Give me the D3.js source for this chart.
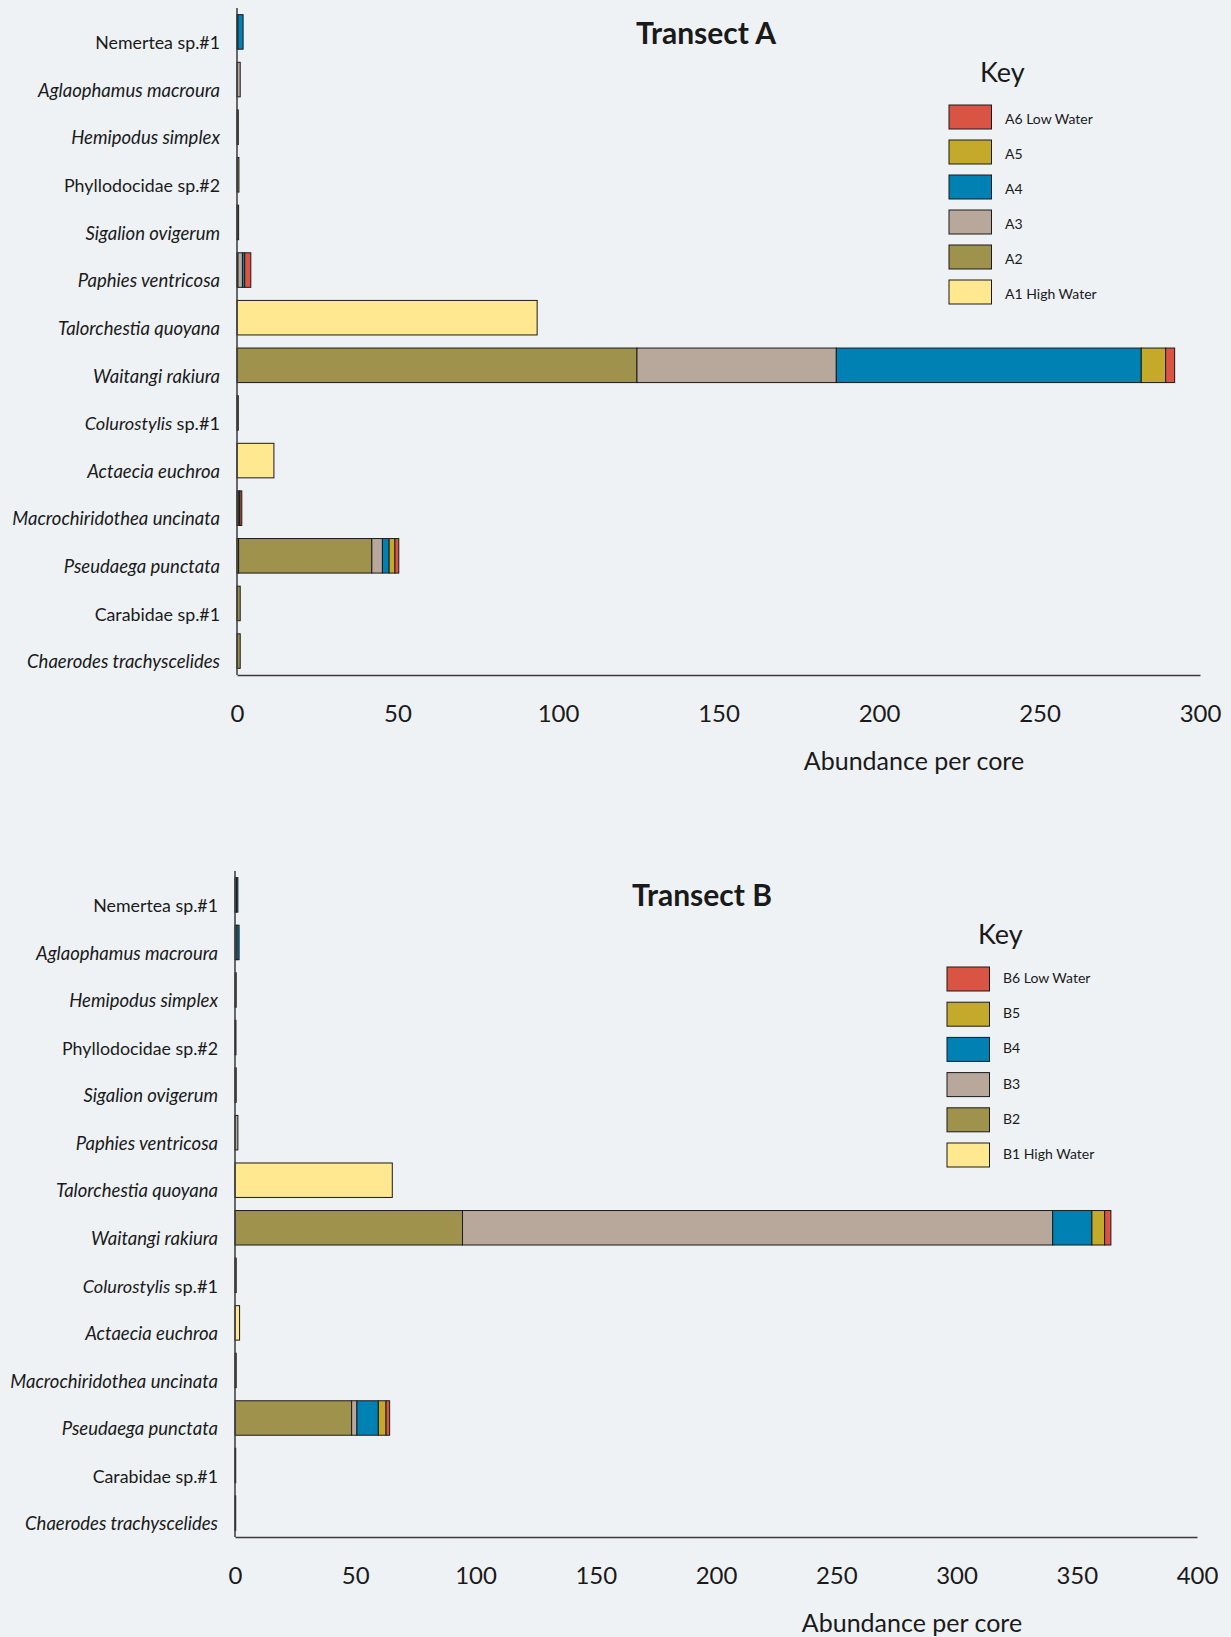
<!DOCTYPE html>
<html>
<head>
<meta charset="utf-8">
<script src="https://cdn.jsdelivr.net/npm/d3@7"></script>
<style>
  html, body { margin: 0; padding: 0; background: #eef2f5; }
  svg { display: block; }
  text { font-family: Lato, "Open Sans", sans-serif; fill: #1a1a1a; }
</style>
</head>
<body>
<svg id="chart" width="1231" height="1637"></svg>
<script>
// ---- Data ----
const species = [
  "Nemertea sp.#1", "Aglaophamus macroura", "Hemipodus simplex", "Phyllodocidae sp.#2",
  "Sigalion ovigerum", "Paphies ventricosa", "Talorchestia quoyana", "Waitangi rakiura",
  "Colurostylis sp.#1", "Actaecia euchroa", "Macrochiridothea uncinata", "Pseudaega punctata",
  "Carabidae sp.#1", "Chaerodes trachyscelides"
];
// label style: 'r' regular, 'i' italic, 'm' mixed (italic genus + regular sp.)
const labelStyle = ["r","i","i","r","i","i","i","i","m","i","i","i","r","i"];

// Transect A (abundance per core at sites A1..A6)
const A1 = [0, 0, 0, 0, 0, 0, 93.5, 0, 0, 11.5, 0, 0.5, 0, 0];
const A2 = [0.3, 0, 0.4, 0.6, 0.5, 0.3, 0, 124.6, 0.4, 0, 0.6, 41.5, 1, 1];
const A3 = [0, 1, 0, 0, 0, 1.4, 0, 62.1, 0, 0, 0, 3.3, 0, 0];
const A4 = [1.6, 0, 0, 0, 0, 0.7, 0, 95, 0, 0, 0.3, 2.1, 0, 0];
const A5 = [0, 0, 0, 0, 0, 0, 0, 7.6, 0, 0, 0, 1.8, 0, 0];
const A6 = [0, 0, 0, 0, 0, 1.9, 0, 2.8, 0, 0, 0.6, 1.2, 0, 0];

// Transect B (abundance per core at sites B1..B6)
const B1 = [0, 0, 0, 0, 0, 0, 65.4, 0, 0, 1.9, 0, 0, 0, 0];
const B2 = [0, 0, 0.5, 0.4, 0.5, 0, 0, 94.6, 0.5, 0, 0.5, 48.5, 0.3, 0.3];
const B3 = [0.6, 0.8, 0, 0, 0, 1.2, 0, 245.4, 0, 0, 0, 2.2, 0, 0];
const B4 = [0.6, 0.9, 0, 0, 0, 0, 0, 16.3, 0, 0, 0, 8.9, 0, 0];
const B5 = [0, 0, 0, 0, 0, 0, 0, 5.3, 0, 0, 0, 3.2, 0, 0];
const B6 = [0, 0, 0, 0, 0, 0, 0, 2.6, 0, 0, 0, 1.5, 0, 0];

const siteColors = ["#ffe88f", "#9e924c", "#b8a89c", "#0081b4", "#c4aa2a", "#d95442"];
const legendA = ["A6 Low Water", "A5", "A4", "A3", "A2", "A1 High Water"];
const legendB = ["B6 Low Water", "B5", "B4", "B3", "B2", "B1 High Water"];
const ticksA = [0, 50, 100, 150, 200, 250, 300];
const ticksB = [0, 50, 100, 150, 200, 250, 300, 350, 400];

// ---- Drawing ----
const svg = d3.select("#chart");
svg.append("rect").attr("width", 1231).attr("height", 1637).attr("fill", "#eef2f5");

function drawPanel(cfg) {
  const g = svg.append("g");
  const keys = ["s1","s2","s3","s4","s5","s6"];
  const rows = species.map((name, i) => {
    const r = { name };
    cfg.series.forEach((s, k) => r[keys[k]] = s[i]);
    return r;
  });
  const stacked = d3.stack().keys(keys)(rows);

  const x = d3.scaleLinear().domain([0, cfg.max]).range([cfg.x0, cfg.x1]);
  const y = d3.scaleBand().domain(species).range([cfg.yTop, cfg.yBase])
    .paddingInner(0.275).paddingOuter(0.14);

  // bars
  stacked.forEach((layer, k) => {
    g.append("g").selectAll("rect")
      .data(layer.filter(d => d[1] - d[0] > 0))
      .join("rect")
      .attr("x", d => x(d[0]))
      .attr("y", d => y(d.data.name))
      .attr("width", d => x(d[1]) - x(d[0]))
      .attr("height", y.bandwidth())
      .attr("fill", siteColors[k])
      .attr("stroke", "#1a1a1a")
      .attr("stroke-width", 1);
  });

  // vertical axis line
  g.append("line")
    .attr("x1", cfg.x0).attr("x2", cfg.x0)
    .attr("y1", cfg.yTop).attr("y2", cfg.yBase)
    .attr("stroke", "#3a3a3a").attr("stroke-width", 1.5);

  // category labels
  const lab = g.append("g").selectAll("text")
    .data(species)
    .join("text")
    .attr("x", cfg.x0 - 17)
    .attr("y", d => y(d) + y.bandwidth())
    .attr("text-anchor", "end");
  lab.each(function(d, i) {
    const t = d3.select(this);
    const st = labelStyle[i];
    if (st === "m") {
      const parts = d.split(" ");
      t.attr("font-size", 18.2);
      t.append("tspan").attr("font-style", "italic").text(parts[0] + " ");
      t.append("tspan").text(parts.slice(1).join(" "));
    } else if (st === "i") {
      t.attr("font-style", "italic").attr("font-size", 18.5).text(d);
    } else {
      t.attr("font-style", "normal").attr("font-size", 17.8).text(d);
    }
  });

  // bottom axis
  const ax = g.append("g")
    .attr("transform", `translate(0,${cfg.yBase})`)
    .call(d3.axisBottom(x).tickValues(cfg.ticks).tickSize(0).tickSizeOuter(0).tickFormat(d3.format("d")));
  ax.select(".domain").attr("stroke", "#3a3a3a").attr("stroke-width", 1.5);
  ax.selectAll(".tick text")
    .attr("y", 46.5).attr("dy", 0)
    .attr("font-size", 24)
    .attr("font-family", "Lato, sans-serif")
    .attr("fill", "#1a1a1a");

  g.append("text")
    .attr("x", cfg.axisTitleX).attr("y", cfg.yBase + 94.5)
    .attr("text-anchor", "middle").attr("font-size", 25)
    .text("Abundance per core");

  // title
  g.append("text")
    .attr("x", cfg.titleX).attr("y", cfg.titleY)
    .attr("text-anchor", "middle").attr("font-size", 30).attr("font-weight", "bold")
    .text(cfg.title);

  // key
  g.append("text")
    .attr("x", cfg.keyX + 31).attr("y", cfg.keyY)
    .attr("font-size", 27)
    .text("Key");
  const leg = g.append("g").selectAll("g")
    .data(cfg.legend)
    .join("g")
    .attr("transform", (d, i) => `translate(${cfg.keyX},${cfg.legTop + i * cfg.legStep})`);
  leg.append("rect")
    .attr("width", 42.5).attr("height", 24)
    .attr("fill", (d, i) => siteColors[5 - i])
    .attr("stroke", "#1a1a1a").attr("stroke-width", 1);
  leg.append("text")
    .attr("x", 56).attr("y", cfg.legTextY)
    .attr("font-size", 14)
    .text(d => d);
}

drawPanel({
  series: [A1, A2, A3, A4, A5, A6], max: 300, ticks: ticksA,
  x0: 237, x1: 1200, yTop: 8, yBase: 675,
  title: "Transect A", titleX: 706, titleY: 44,
  axisTitleX: 914,
  keyX: 949, keyY: 81.5, legTop: 105, legStep: 35, legTextY: 19, legend: legendA
});
drawPanel({
  series: [B1, B2, B3, B4, B5, B6], max: 400, ticks: ticksB,
  x0: 235, x1: 1197, yTop: 871, yBase: 1537,
  title: "Transect B", titleX: 702, titleY: 906,
  axisTitleX: 912,
  keyX: 947, keyY: 943.5, legTop: 967, legStep: 35.2, legTextY: 16, legend: legendB
});
</script>
</body>
</html>
